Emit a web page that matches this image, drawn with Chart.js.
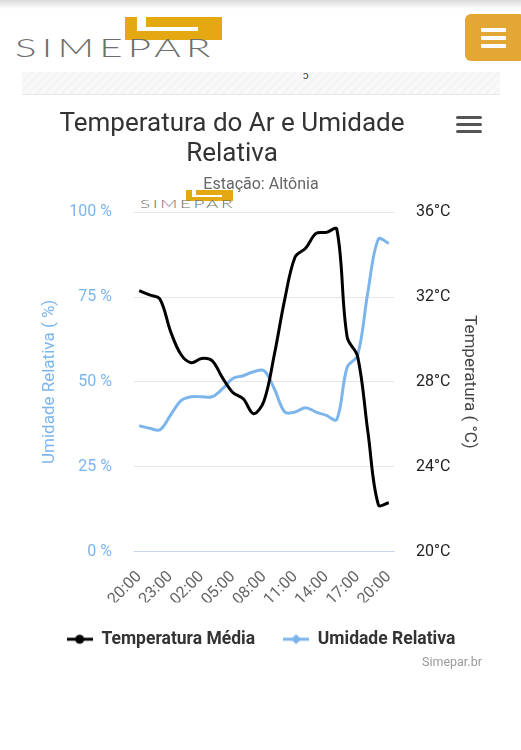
<!DOCTYPE html>
<html>
<head>
<meta charset="utf-8">
<script src="https://cdn.jsdelivr.net/npm/chart.js@4.4.1/dist/chart.umd.min.js"></script>
<style>
    body { margin: 0; width: 521px; height: 750px; background: #fff; font-family: Roboto, sans-serif; overflow: hidden; position: relative; }
    .topshadow { position: absolute; left: 0; top: 0; width: 521px; height: 9px; background: linear-gradient(#d9d9d9, #fff); }
    .logo { position: absolute; }
    .logo .gold { position: absolute; background: #e3a812; }
    .logo .cut { position: absolute; background: #fff; }
    .logo .word { position: absolute; font-family: Lato, "Open Sans", sans-serif; font-weight: 300; color: #6f6f6f; white-space: nowrap; transform-origin: 0 0; }
    .menu-btn { position: absolute; left: 465px; top: 14px; width: 60px; height: 47px; background: #e5a733; border-radius: 6px; }
    .menu-btn span { position: absolute; left: 16px; width: 25px; height: 4px; background: #fff; border-radius: 1px; }
    .strip { position: absolute; left: 22px; top: 72px; width: 478px; height: 22px; border-bottom: 1px solid #e6e6e6;
        background: repeating-linear-gradient(135deg, #f5f5f5 0 3px, #f9f9f9 3px 6px); }
    .strip b { position: absolute; left: 281px; top: -3px; font-size: 11px; color: #333; font-weight: normal; }
    #wrap { position: absolute; left: 22px; top: 96px; width: 478px; height: 562px; }
    .chart-title { position: absolute; left: 0; top: 107px; width: 464px; text-align: center; font-size: 26px; line-height: 30px; color: #333; }
    .ctx-menu { position: absolute; left: 456px; top: 116px; width: 26px; }
    .ctx-menu span { display: block; height: 3px; background: #555; border-radius: 2px; margin-bottom: 4px; }
    .credits { position: absolute; left: 422px; top: 654px; font-size: 12.5px; color: #999; }
</style>
</head>
<body>
<div class="topshadow"></div>

<div class="logo" style="left:15px; top:17px;">
    <div class="gold" style="left:110px; top:0; width:97px; height:23px;"></div>
    <div class="cut" style="left:122px; top:0; width:9px; height:11px;"></div>
    <div class="cut" style="left:122px; top:10px; width:61px; height:4px;"></div>
    <div class="word" style="left:0; top:15px; font-size:31px; letter-spacing:4px; transform: scale(1.3, 0.8);">SIMEPAR</div>
</div>

<div class="menu-btn"><span style="top:14px"></span><span style="top:22px"></span><span style="top:30px"></span></div>
<div class="strip"><b>ɔ</b></div>

<div class="logo" style="left:140px; top:190px;">
    <div class="gold" style="left:46px; top:0; width:47px; height:11px;"></div>
    <div class="cut" style="left:52px; top:0; width:4px; height:5px;"></div>
    <div class="cut" style="left:52px; top:5px; width:30px; height:2px;"></div>
    <div class="word" style="left:0; top:7px; font-size:14.5px; letter-spacing:2px; transform: scale(1.3, 0.75);">SIMEPAR</div>
</div>

<div id="wrap"><canvas id="chart"></canvas></div>
<div class="chart-title">Temperatura do Ar e Umidade<br>Relativa</div>
<div class="ctx-menu"><span></span><span></span><span></span></div>
<div class="credits">Simepar.br</div>

<script>
const hours = ['20:00', '21:00', '22:00', '23:00', '00:00', '01:00', '02:00', '03:00', '04:00',
    '05:00', '06:00', '07:00', '08:00', '09:00', '10:00', '11:00', '12:00', '13:00', '14:00',
    '15:00', '16:00', '17:00', '18:00', '19:00', '20:00'];
const temperatura = [32.3, 32.1, 31.9, 30.4, 29.3, 28.9, 29.1, 29.0, 28.2, 27.5, 27.2, 26.5, 27.1,
    29.3, 31.9, 33.9, 34.3, 35.0, 35.05, 35.2, 30.1, 29.2, 25.6, 22.2, 22.3];
const umidade = [37.1, 36.3, 35.9, 40.1, 44.4, 45.6, 45.6, 45.6, 47.9, 51.0, 51.8, 53.0, 53.3,
    47.9, 41.1, 41.1, 42.4, 41.1, 40.1, 38.9, 54.3, 57.8, 76.7, 92.1, 90.8];
const umidadeTicks = [0, 25, 50, 75, 100];
const tempTicks = [20, 24, 28, 32, 36];

// little legend symbols: line with a marker, like the original
function legendSymbol(color, shape) {
    const c = document.createElement('canvas');
    c.width = 26;
    c.height = 12;
    const g = c.getContext('2d');
    g.strokeStyle = color;
    g.fillStyle = color;
    g.lineWidth = 3;
    g.beginPath();
    g.moveTo(0, 6);
    g.lineTo(26, 6);
    g.stroke();
    g.beginPath();
    if (shape === 'circle') {
        g.arc(13, 6, 4.5, 0, Math.PI * 2);
    } else {
        g.moveTo(13, 1); g.lineTo(18, 6); g.lineTo(13, 11); g.lineTo(8, 6); g.closePath();
    }
    g.fill();
    return c;
}

const data = {
    labels: hours,
    datasets: [{
        label: 'Temperatura Média',
        data: temperatura,
        yAxisID: 'temp',
        borderColor: '#000000',
        backgroundColor: '#000000',
        borderWidth: 3,
        pointRadius: 0,
        pointStyle: legendSymbol('#000000', 'circle'),
        tension: 0.35,
    }, {
        label: 'Umidade Relativa',
        data: umidade,
        yAxisID: 'umid',
        borderColor: '#7cb5ec',
        backgroundColor: '#7cb5ec',
        borderWidth: 3,
        pointRadius: 0,
        pointStyle: legendSymbol('#7cb5ec', 'diamond'),
        tension: 0.35,
    }],
};

const config = {
    type: 'line',
    data: data,
    options: {
        responsive: false,
        animation: false,
        layout: { padding: 0 },
        plugins: {
            title: { display: false },
            subtitle: {
                display: true,
                text: 'Estação: Altônia',
                color: '#666666',
                font: { family: 'Roboto', size: 16, weight: 'normal', lineHeight: 1.2 },
                padding: { top: 79, bottom: 18 },
            },
            legend: {
                position: 'bottom',
                labels: {
                    usePointStyle: true,
                    pointStyleWidth: 26,
                    padding: 28,
                    color: '#333333',
                    font: { family: 'Roboto', size: 17.5, weight: 'bold' },
                },
            },
            tooltip: { enabled: false },
        },
        scales: {
            x: {
                offset: true,
                grid: { display: false },
                border: { color: '#ccd6eb' },
                afterFit: (scale) => { scale.height = 51; },
                ticks: {
                    autoSkip: false,
                    minRotation: 45,
                    maxRotation: 45,
                    padding: 8,
                    color: '#666666',
                    font: { family: 'Roboto', size: 16 },
                    callback: (v, i) => (i % 3 === 0 ? hours[i] : ''),
                },
            },
            umid: {
                position: 'left',
                min: umidadeTicks[0],
                max: umidadeTicks[umidadeTicks.length - 1],
                afterFit: (scale) => { scale.width = 112; },
                afterBuildTicks: (scale) => { scale.ticks = umidadeTicks.map(v => ({ value: v })); },
                grid: {
                    drawTicks: false,
                    color: (ctx) => (ctx.tick && ctx.tick.value === 0 ? '#ccd6eb' : '#e6e6e6'),
                },
                border: { display: false },
                ticks: {
                    padding: 22,
                    color: '#7cb5ec',
                    font: { family: 'Roboto', size: 16 },
                    callback: (v) => v + ' %',
                },
                title: {
                    display: true,
                    text: 'Umidade Relativa ( %)',
                    color: '#7cb5ec',
                    font: { family: 'Roboto', size: 17, lineHeight: 1.2 },
                    padding: { top: 17.5 },
                },
            },
            temp: {
                position: 'right',
                min: tempTicks[0],
                max: tempTicks[tempTicks.length - 1],
                afterFit: (scale) => { scale.width = 106; },
                afterBuildTicks: (scale) => { scale.ticks = tempTicks.map(v => ({ value: v })); },
                grid: { display: false, drawTicks: false },
                border: { display: false },
                ticks: {
                    padding: 22,
                    color: '#222222',
                    font: { family: 'Roboto', size: 16 },
                    callback: (v) => v + '°C',
                },
                title: {
                    display: true,
                    text: 'Temperatura ( °C)',
                    color: '#444444',
                    font: { family: 'Roboto', size: 17, lineHeight: 1.2 },
                    padding: { top: 20.5 },
                },
            },
        },
    },
};

const canvas = document.getElementById('chart');
canvas.width = 478;
canvas.height = 562;
new Chart(canvas, config);
</script>
</body>
</html>
